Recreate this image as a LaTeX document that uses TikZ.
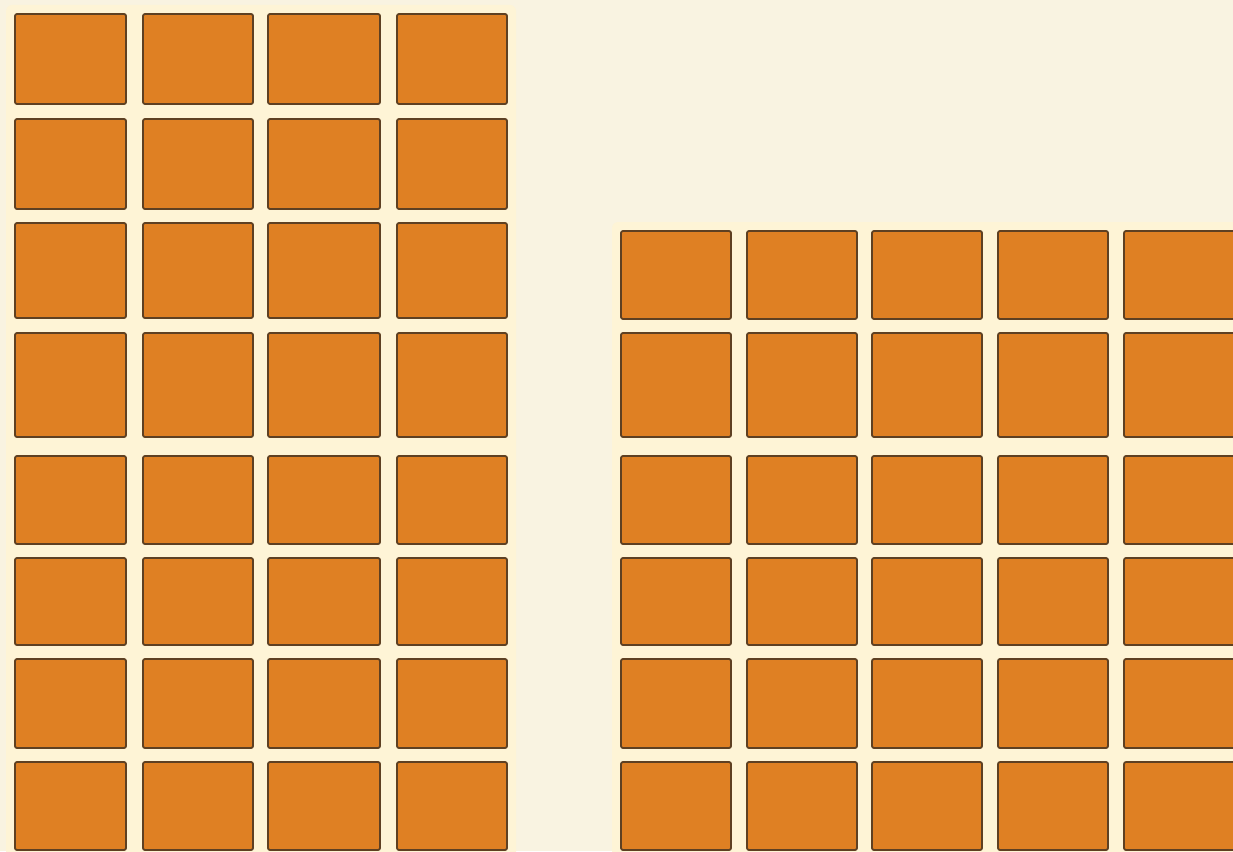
\documentclass[tikz,border=0pt]{standalone}
\usepackage{tikz}
\definecolor{bgcream}{HTML}{F9F3E1}
\definecolor{glow}{HTML}{FEF4D6}
\definecolor{tilefill}{HTML}{DF8023}
\definecolor{tileedge}{HTML}{5E4022}
\tikzset{
  tile/.style={draw=tileedge, fill=tilefill, line width=1.8pt, rounded corners=2pt},
  halo/.style={fill=glow, draw=none, rounded corners=6pt}
}
\begin{document}
\begin{tikzpicture}[x=1pt,y=-1pt]
\fill[bgcream] (0,0) rectangle (1233,851);
\useasboundingbox (0,0) rectangle (1233,851);
% soft light halos behind the grids
\path[halo] (6,5) rectangle (516,860);
\path[halo] (612,222) rectangle (1240,860);
% left grid: 4 columns x 8 rows
\foreach \xa/\xb [count=\c] in {15/126,143/253,268/380,397/507}{
  \foreach \ya/\yb [count=\r] in {14/104,119/209,223/318,333/437,456/544,558/645,659/748,762/850}{
    \draw[tile] (\xa,\ya) rectangle (\xb,\yb);
  }
}
% right grid: 5 columns x 6 rows
\foreach \xa/\xb [count=\c] in {621/731,747/857,872/982,998/1108,1124/1242}{
  \foreach \ya/\yb [count=\r] in {231/319,333/437,456/544,558/645,659/748,762/850}{
    \draw[tile] (\xa,\ya) rectangle (\xb,\yb);
  }
}
\end{tikzpicture}
\end{document}
